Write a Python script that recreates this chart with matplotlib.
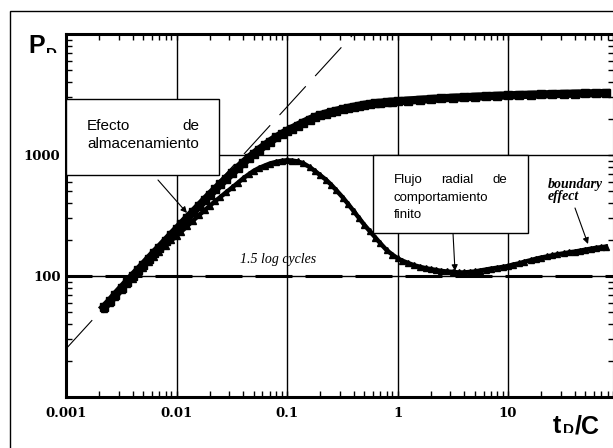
import matplotlib
matplotlib.use("Agg")
import matplotlib.pyplot as plt
from matplotlib.patches import Rectangle
from matplotlib.transforms import Bbox, TransformedBbox
from matplotlib.ticker import LogLocator, NullFormatter

plt.rcParams['lines.scale_dashes'] = False

# presion adimensional P_D (cuadrados)
t_pres = [0.0022, 0.0025, 0.0028, 0.0032, 0.0036, 0.004, 0.0045, 0.005, 0.0056, 0.0063,
          0.007, 0.008, 0.009, 0.01, 0.011, 0.0125, 0.014, 0.016, 0.018, 0.02,
          0.0225, 0.025, 0.028, 0.032, 0.036, 0.04, 0.045, 0.05, 0.056, 0.063,
          0.07, 0.08, 0.09, 0.1, 0.11, 0.125, 0.14, 0.16, 0.18, 0.2,
          0.225, 0.25, 0.28, 0.32, 0.36, 0.4, 0.45, 0.5, 0.56, 0.63,
          0.7, 0.8, 0.9, 1.0, 1.25, 1.6, 2.0, 2.5, 3.2, 4.0,
          5.0, 6.3, 8.0, 10, 12.5, 16, 20, 25, 32, 40, 50, 63, 77]
p_pres = [55, 62, 70, 80, 90, 100, 112, 124, 139, 156,
          172, 196, 220, 243, 267, 302, 335, 380, 425, 470,
          522, 575, 635, 712, 785, 860, 945, 1020, 1110, 1200,
          1290, 1400, 1490, 1580, 1650, 1750, 1850, 1960, 2060, 2130,
          2200, 2260, 2320, 2390, 2450, 2500, 2550, 2600, 2635, 2670,
          2700, 2735, 2760, 2780, 2820, 2860, 2900, 2940, 2975, 3000,
          3030, 3060, 3085, 3110, 3130, 3150, 3165, 3185, 3200, 3215, 3228, 3240, 3250]

# derivada de la presion (triangulos)
t_deriv = [0.0022, 0.0025, 0.0028, 0.0032, 0.0036, 0.004, 0.0045, 0.005, 0.0056, 0.0063,
           0.007, 0.008, 0.009, 0.01, 0.011, 0.0125, 0.014, 0.016, 0.018, 0.02,
           0.0225, 0.025, 0.028, 0.032, 0.036, 0.04, 0.045, 0.05, 0.056, 0.063,
           0.07, 0.08, 0.09, 0.1, 0.11, 0.125, 0.14, 0.16, 0.18, 0.2,
           0.225, 0.25, 0.28, 0.32, 0.36, 0.4, 0.45, 0.5, 0.56, 0.63,
           0.7, 0.8, 0.9, 1.0, 1.1, 1.25, 1.4, 1.6, 1.8, 2.0,
           2.25, 2.5, 2.8, 3.2, 3.6, 4.0, 4.5, 5.0, 5.6, 6.3,
           7.0, 8.0, 9.0, 10, 11, 12.5, 14, 16, 18, 20,
           22.5, 25, 28, 32, 36, 40, 45, 50, 56, 63, 70, 77]
p_deriv = [53, 60, 67, 76, 86, 95, 106, 117, 130, 144,
           158, 178, 197, 215, 232, 258, 285, 318, 350, 380,
           417, 450, 490, 540, 590, 640, 692, 740, 782, 818,
           850, 878, 895, 905, 900, 885, 855, 795, 735, 680,
           625, 570, 510, 445, 390, 345, 300, 265, 235, 208,
           186, 163, 150, 140, 134, 128, 123, 119, 116, 114,
           112, 110, 109, 108, 107, 107, 108, 109, 111, 113,
           115, 117, 119, 121, 124, 127, 131, 135, 139, 142,
           145, 148, 151, 154, 157, 159, 162, 165, 168, 171, 173, 175]

# recta de pendiente unitaria (almacenamiento)
t_unit = [0.001, 0.4]
p_unit = [25, 10000]
# nivel de flujo radial
p_radial = 100

x_ticks = [0.001, 0.01, 0.1, 1, 10]
x_labels = ["0.001", "0.01", "0.1", "1", "10"]
y_ticks = [100, 1000]
y_labels = ["100", "1000"]

W, H = 613, 448


def fx(x):
    return x / W


def fy(y):
    return 1 - y / H


fig = plt.figure(figsize=(W / 100, H / 100), dpi=100)
ax = fig.add_axes([fx(66), fy(397), 548 / W, 363 / H])
ax.set_xscale('log')
ax.set_yscale('log')
ax.set_xlim(0.001, 91)
ax.set_ylim(10, 10000)

tick_font = dict(fontfamily='DejaVu Serif', fontweight='bold', fontsize=9.5)
ax.set_xticks(x_ticks, x_labels, **tick_font)
ax.set_yticks(y_ticks, y_labels, **tick_font)
ax.xaxis.set_minor_locator(LogLocator(base=10, subs=range(2, 10), numticks=20))
ax.yaxis.set_minor_locator(LogLocator(base=10, subs=range(2, 10), numticks=20))
ax.xaxis.set_minor_formatter(NullFormatter())
ax.yaxis.set_minor_formatter(NullFormatter())
ax.tick_params(which='both', direction='in', top=True, right=True,
               width=1.0, length=4.5, color='k')
ax.tick_params(axis='x', pad=7)
ax.tick_params(axis='y', pad=4)
for s in ax.spines.values():
    s.set_linewidth(2.2)
ax.grid(True, which='major', color='k', lw=1.0)
ax.grid(False, which='minor')

# rectas de referencia
ax.plot(t_unit, p_unit, color='k', lw=0.8, ls=(0, (28, 10)), zorder=2)
ax.axhline(p_radial, color='k', lw=2.2, ls=(7.9, (26.6, 9.4)), zorder=2)

# curvas
ax.plot(t_deriv, p_deriv, color='k', lw=3.2, marker='^', ms=4.5, zorder=3)
ax.plot(t_pres, p_pres, color='k', lw=6, marker='s', ms=6, zorder=4)

# marco exterior
fig.add_artist(Rectangle((fx(9.5), -0.1), 1.2, fy(11) + 0.1, fill=False,
                         ec='k', lw=1.0, transform=fig.transFigure))

# cuadros de texto
fig.add_artist(Rectangle((fx(66), fy(175)), (219 - 66) / W, (175 - 99) / H,
                         transform=fig.transFigure, fc='white', ec='k', lw=1.0, zorder=5))
fig.add_artist(Rectangle((fx(373), fy(233)), (528 - 373) / W, (233 - 155) / H,
                         transform=fig.transFigure, fc='white', ec='k', lw=1.0, zorder=5))

box_font = dict(family='Liberation Sans', va='baseline', zorder=6)
fig.text(fx(87), fy(130), "Efecto", fontsize=11, ha='left', **box_font)
fig.text(fx(199), fy(130), "de", fontsize=11, ha='right', **box_font)
fig.text(fx(87), fy(148), "almacenamiento", fontsize=11, ha='left', **box_font)

fig.text(fx(394), fy(183), "Flujo", fontsize=9.5, ha='left', **box_font)
fig.text(fx(457), fy(183), "radial", fontsize=9.5, ha='center', **box_font)
fig.text(fx(507), fy(183), "de", fontsize=9.5, ha='right', **box_font)
fig.text(fx(394), fy(201), "comportamiento", fontsize=9.5, ha='left', **box_font)
fig.text(fx(394), fy(218), "finito", fontsize=9.5, ha='left', **box_font)

# notas en cursiva
fig.text(fx(240), fy(259), "1.5 log cycles", fontsize=10, style='italic',
         family='Liberation Serif', va='center', ha='left')
fig.text(fx(548), fy(188), "boundary", fontsize=10, style='italic', fontweight='bold',
         family='Liberation Serif', va='baseline', ha='left')
fig.text(fx(548), fy(200), "effect", fontsize=10, style='italic', fontweight='bold',
         family='Liberation Serif', va='baseline', ha='left')

# flechas
arrow = dict(arrowstyle='-|>', color='k', lw=0.8, mutation_scale=9, shrinkA=0, shrinkB=0)
for (x0, y0), (x1, y1) in [((158, 180), (187, 213)),
                           ((453, 233), (455, 271)),
                           ((575, 208), (588, 244))]:
    ax.annotate('', xy=(x1, H - y1), xycoords='figure pixels',
                xytext=(x0, H - y0), textcoords='figure pixels',
                arrowprops=arrow, annotation_clip=False, zorder=6)

# titulos de los ejes con subindice recortado
lab = dict(family='Liberation Sans', fontweight='bold', va='baseline', ha='left')
fig.text(fx(28), fy(53), "P", fontsize=18, **lab)
sub = fig.text(fx(46), fy(58), "D", fontsize=11, **lab)
sub.set_clip_box(TransformedBbox(Bbox.from_extents(0, fy(53), 1, 1), fig.transFigure))
sub.set_clip_on(True)

fig.text(fx(553), fy(433), "t", fontsize=18, **lab)
sub2 = fig.text(fx(563), fy(434), "D", fontsize=11, **lab)
sub2.set_clip_box(TransformedBbox(Bbox.from_extents(0, fy(433), 1, 1), fig.transFigure))
sub2.set_clip_on(True)
fig.text(fx(575), fy(433), "/C", fontsize=18, **lab)

fig.savefig("out.png", dpi=100)
